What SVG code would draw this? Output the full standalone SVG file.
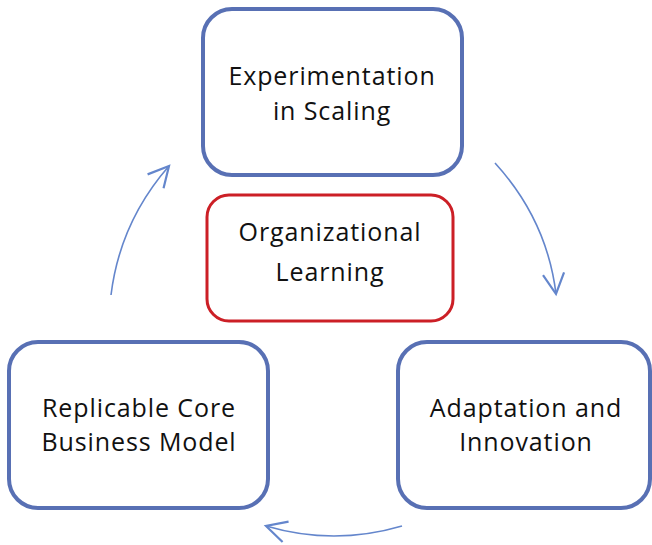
<svg xmlns="http://www.w3.org/2000/svg" width="652" height="545" viewBox="0 0 652 545">
  <style>
    .box { fill: #ffffff; stroke: #5870B4; stroke-width: 4; }
    .core { fill: #ffffff; stroke: #CC1F26; stroke-width: 3; }
    .label { font-family: "Open Sans", "Noto Sans", "Liberation Sans", sans-serif; font-size: 25px; letter-spacing: 0.9px; fill: #111111; text-anchor: middle; }
    .flow { fill: none; stroke: #6486CC; stroke-width: 1.6; }
  </style>
  <defs>
    <!-- open V arrowhead, tip at the path end -->
    <marker id="head" markerUnits="userSpaceOnUse" markerWidth="30" markerHeight="30" viewBox="-25 -15 30 30" refX="0" refY="0" orient="auto" overflow="visible">
      <path d="M -20.4 -10.6 L 0 0 L -20.4 10.6" fill="none" stroke="#6486CC" stroke-width="2.2" stroke-linejoin="miter"/>
    </marker>
  </defs>

  <rect width="652" height="545" fill="#ffffff"/>

  <!-- cycle connectors -->
  <g id="connectors">
    <path class="flow" d="M 495 163 Q 547 220 556 294" marker-end="url(#head)"/>
    <path class="flow" d="M 402 526 Q 334 546 266 526" marker-end="url(#head)"/>
    <path class="flow" d="M 111 295 Q 120 222 169 166" marker-end="url(#head)"/>
  </g>

  <g id="experimentation">
    <rect class="box" x="203" y="9" width="259" height="166" rx="29" ry="29"/>
    <text class="label" x="332" y="85">Experimentation</text>
    <text class="label" x="332" y="120">in Scaling</text>
  </g>

  <g id="organizational-learning">
    <rect class="core" x="207" y="195" width="246" height="126" rx="22" ry="22"/>
    <text class="label" x="330" y="241">Organizational</text>
    <text class="label" x="330" y="281">Learning</text>
  </g>

  <g id="adaptation">
    <rect class="box" x="398" y="342" width="252" height="166" rx="29" ry="29"/>
    <text class="label" x="526" y="417">Adaptation and</text>
    <text class="label" x="526" y="451">Innovation</text>
  </g>

  <g id="replicable-core">
    <rect class="box" x="9" y="342" width="259" height="166" rx="29" ry="29"/>
    <text class="label" x="139" y="417">Replicable Core</text>
    <text class="label" x="139" y="451">Business Model</text>
  </g>
</svg>
